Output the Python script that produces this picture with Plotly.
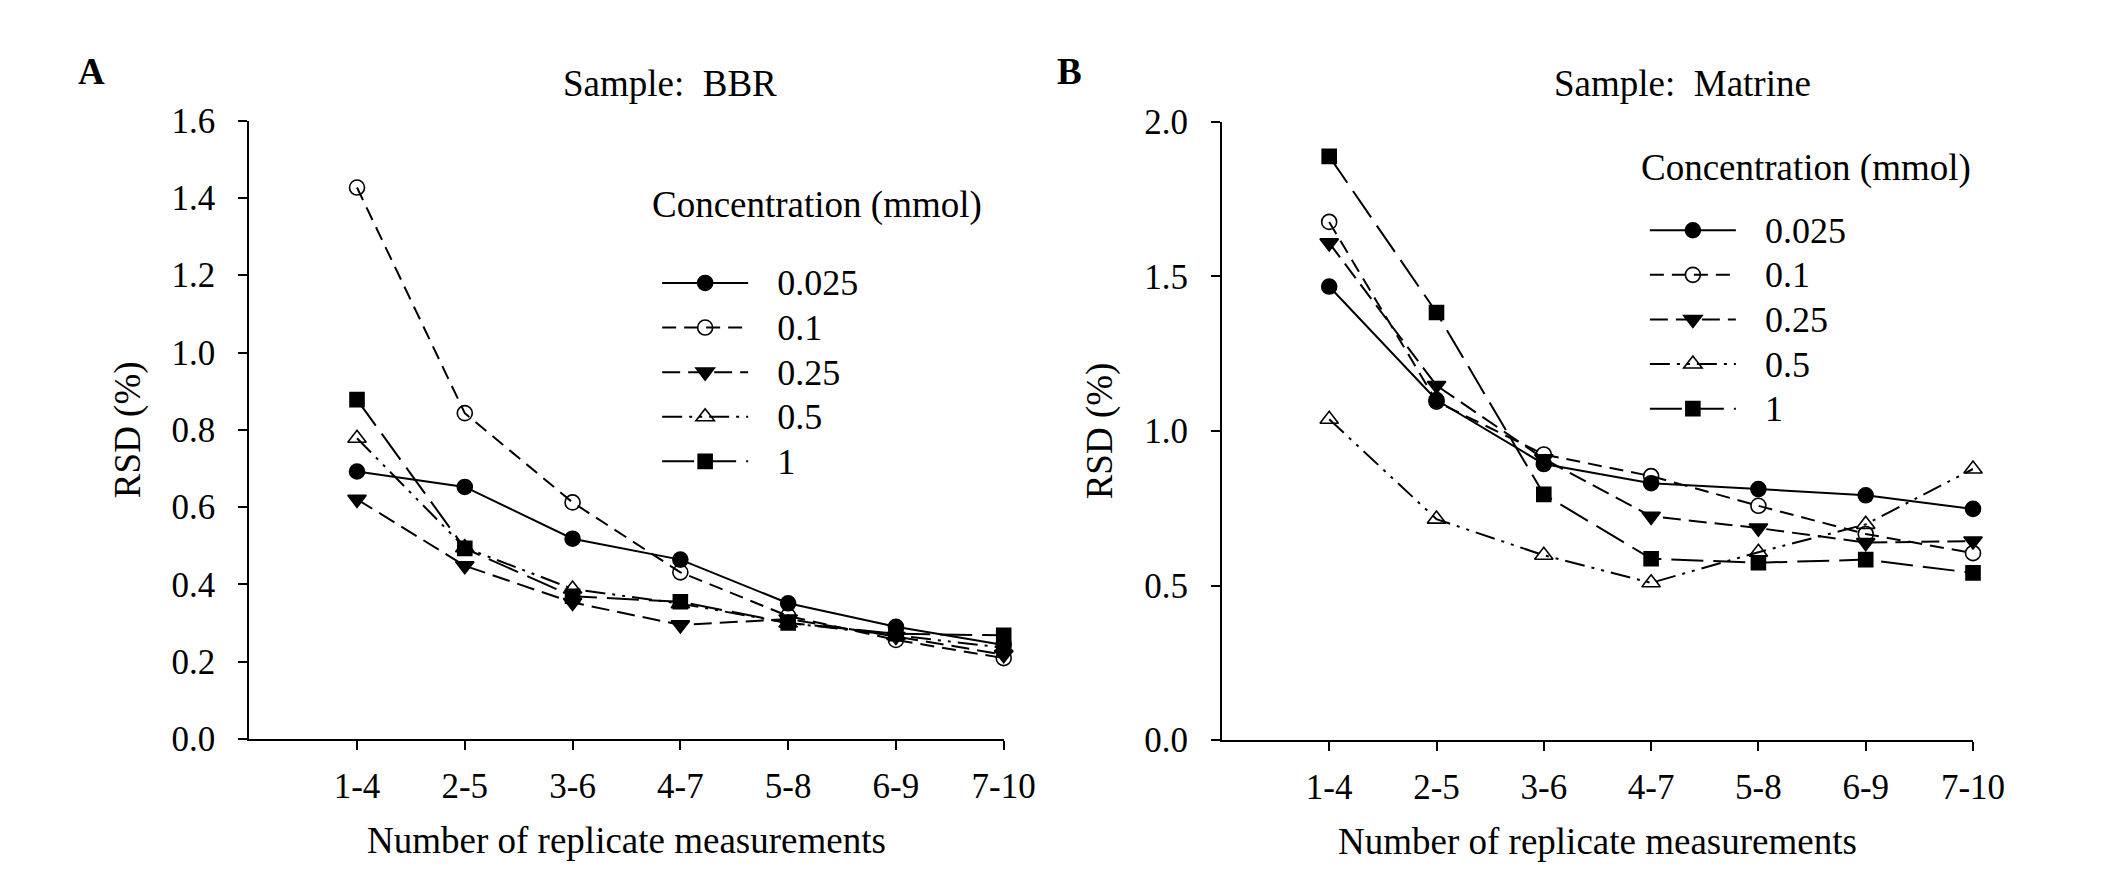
import plotly.graph_objects as go

# x categories (replicate windows)
categories = ["1-4", "2-5", "3-6", "4-7", "5-8", "6-9", "7-10"]
conc_labels = ["0.025", "0.1", "0.25", "0.5", "1"]

# panel A - BBR, RSD (%)
bbr_0025 = [0.692, 0.652, 0.518, 0.464, 0.351, 0.290, 0.243]
bbr_01 = [1.427, 0.843, 0.612, 0.431, 0.318, 0.256, 0.209]
bbr_025 = [0.620, 0.448, 0.353, 0.295, 0.310, 0.265, 0.218]
bbr_05 = [0.778, 0.495, 0.388, 0.350, 0.300, 0.268, 0.236]
bbr_1 = [0.878, 0.493, 0.369, 0.355, 0.300, 0.272, 0.268]

# panel B - Matrine, RSD (%)
mat_0025 = [1.467, 1.100, 0.893, 0.831, 0.812, 0.792, 0.748]
mat_01 = [1.676, 1.095, 0.924, 0.854, 0.758, 0.667, 0.605]
mat_025 = [1.608, 1.147, 0.910, 0.724, 0.686, 0.639, 0.644]
mat_05 = [1.038, 0.715, 0.598, 0.509, 0.608, 0.698, 0.877]
mat_1 = [1.888, 1.383, 0.795, 0.587, 0.574, 0.584, 0.541]

FONT = "Liberation Serif, Times New Roman, Times, serif"
NBSP = "\u00a0"

# marker / dash style per concentration
styles = [
    dict(symbol="circle", size=15, dash="solid"),
    dict(symbol="circle-open", size=15, dash="14px,8px"),
    dict(symbol="triangle-down", size=16, dash="18px,8px"),
    dict(symbol="triangle-up-open", size=16, dash="20px,7px,3px,7px,3px,7px"),
    dict(symbol="square", size=14, dash="32px,10px"),
]

fig = go.Figure()


def add_panel(series, xa, ya, legend):
    for name, vals, st in zip(conc_labels, series, styles):
        # legend row height follows the (smaller) legend font, label drawn bigger
        label = NBSP * 3 + "<span style='font-size:36px'>" + name + "</span>"
        fig.add_trace(go.Scatter(
            x=categories, y=vals, name=label, mode="lines+markers",
            xaxis=xa, yaxis=ya, legend=legend, cliponaxis=False,
            line=dict(color="black", width=2, dash=st["dash"]),
            marker=dict(symbol=st["symbol"], size=st["size"], color="black",
                        line=dict(color="black", width=1.6)),
        ))


add_panel([bbr_0025, bbr_01, bbr_025, bbr_05, bbr_1], "x", "y", "legend")
add_panel([mat_0025, mat_01, mat_025, mat_05, mat_1], "x2", "y2", "legend2")

axis_common = dict(
    showline=True, linecolor="black", linewidth=2, showgrid=False, zeroline=False,
    ticks="outside", ticklen=9, tickwidth=2, tickcolor="black",
    tickfont=dict(family=FONT, size=35, color="black"),
)

xax = dict(axis_common, type="category", range=[-1.0, 6.0], ticklabelstandoff=6,
           title=dict(text="Number of replicate measurements",
                      font=dict(family=FONT, size=37, color="black"), standoff=22))
yax_title = dict(text="RSD (%)", font=dict(family=FONT, size=37, color="black"), standoff=20)

leg_common = dict(
    font=dict(family=FONT, size=32, color="black"),
    bgcolor="rgba(0,0,0,0)", borderwidth=0, itemwidth=86,
    xanchor="left", yanchor="top", tracegroupgap=0,
)


def text_note(text, x, y, size=37, xanchor="center"):
    return dict(text=text, x=x, y=y, xref="paper", yref="paper", showarrow=False,
                xanchor=xanchor, yanchor="middle",
                font=dict(family=FONT, size=size, color="black"))


fig.update_layout(
    width=2126, height=889,
    margin=dict(l=0, r=0, t=0, b=0),
    paper_bgcolor="white", plot_bgcolor="white",
    font=dict(family=FONT, color="black"),
    xaxis=dict(xax, domain=[0.1152, 0.4755], anchor="y"),
    yaxis=dict(axis_common, domain=[0.1625, 0.8898], anchor="x", range=[0, 1.6],
               dtick=0.2, tickformat=".1f", ticklabelstandoff=16, title=yax_title),
    xaxis2=dict(xax, domain=[0.5797, 0.9384], anchor="y2"),
    yaxis2=dict(axis_common, domain=[0.1609, 0.8886], anchor="x2", range=[0, 2.0],
                dtick=0.5, tickformat=".1f", ticklabelstandoff=16, title=yax_title),
    legend=dict(leg_common, x=0.31, y=0.731),
    legend2=dict(leg_common, x=0.7817, y=0.793),
    annotations=[
        text_note("<b>A</b>", 0.04, 0.948),
        text_note("<b>B</b>", 0.507, 0.948),
        text_note("Sample:  BBR", 0.3161, 0.933),
        text_note("Sample:  Matrine", 0.7996, 0.933),
        text_note("Concentration (mmol)", 0.3067, 0.79, xanchor="left"),
        text_note("Concentration (mmol)", 0.7789, 0.8345, xanchor="left"),
    ],
)

fig.write_html("out.html")
